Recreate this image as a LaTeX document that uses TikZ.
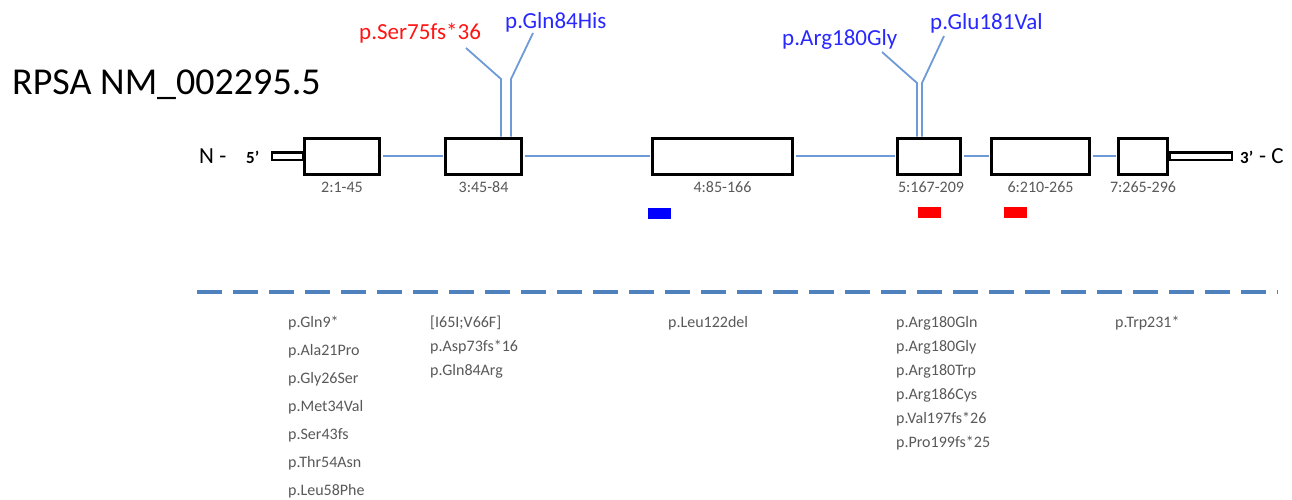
\documentclass[tikz,border=0pt]{standalone}
\usepackage{fontspec}
\setmainfont{Carlito}
\definecolor{lineblue}{RGB}{110,155,215}
\definecolor{dashblue}{RGB}{79,129,189}
\definecolor{mred}{RGB}{255,20,20}
\definecolor{mblue}{RGB}{40,40,255}
\definecolor{labgrey}{RGB}{89,89,89}
\tikzset{
  exon/.style={draw=black, line width=3pt, fill=white, rectangle, minimum height=36pt, inner sep=0pt},
  utr/.style={draw=black, line width=2.5pt, fill=white, rectangle, minimum height=7.5pt, inner sep=0pt},
  intron/.style={draw=lineblue, line width=2pt, shorten <=1.5pt, shorten >=1.5pt},
  mutline/.style={draw=lineblue, line width=1.8pt},
  exlab/.style={font=\fontsize{16}{18}\selectfont, text=labgrey, inner sep=0pt},
  toplab/.style={font=\fontsize{23}{26}\selectfont, anchor=base west, inner sep=0pt},
  mut/.style={font=\fontsize{16}{19}\selectfont, text=labgrey, anchor=base west, inner sep=0pt},
  marker/.style={rectangle, minimum width=23pt, minimum height=11pt, inner sep=0pt},
  endlab/.style={font=\fontsize{23}{27}\selectfont, anchor=base west, inner sep=0pt},
  primelab/.style={font=\fontsize{17}{20}\selectfont\bfseries, anchor=base west, inner sep=0pt}
}
\begin{document}
\begin{tikzpicture}[x=1pt,y=-1pt]
\useasboundingbox (0,0) rectangle (1292,500);
\fill[white] (0,0) rectangle (1292,500);

% title
\node[font=\fontsize{38}{44}\selectfont, anchor=base west, inner sep=0pt] (title) at (12,95) {RPSA NM\_002295.5};

% UTRs and exons
\node[utr, minimum width=31pt] (u5) at (287.5,156) {};
\node[utr, minimum width=62pt] (u3) at (1201,156) {};
\node[exon, minimum width=75pt] (e2) at (342,156) {};
\node[exon, minimum width=76pt] (e3) at (483.5,156) {};
\node[exon, minimum width=140pt] (e4) at (722.5,156) {};
\node[exon, minimum width=63pt] (e5) at (929,156) {};
\node[exon, minimum width=98pt] (e6) at (1040.5,156) {};
\node[exon, minimum width=49pt] (e7) at (1143,156) {};

% introns
\draw[intron] (e2.east) -- (e3.west);
\draw[intron] (e3.east) -- (e4.west);
\draw[intron] (e4.east) -- (e5.west);
\draw[intron] (e5.east) -- (e6.west);
\draw[intron] (e6.east) -- (e7.west);

% end labels
\node[endlab] (nterm) at (199,163) {N -};
\node[primelab] (five) at (246,163) {5’};
\node[primelab] (three) at (1240,163) {3’};
\node[endlab] (cterm) at (1259,163) {- C};

% exon labels
\node[exlab] (l2) at (342,187) {2:1-45};
\node[exlab] (l3) at (483.5,187) {3:45-84};
\node[exlab] (l4) at (722.5,187) {4:85-166};
\node[exlab] (l5) at (931,187) {5:167-209};
\node[exlab] (l6) at (1040.5,187) {6:210-265};
\node[exlab] (l7) at (1143,187) {7:265-296};

% markers
\node[marker, fill=blue] (m1) at (659.5,213) {};
\node[marker, fill=red] (m2) at (929.5,212.5) {};
\node[marker, fill=red] (m3) at (1015,212.5) {};

% top mutation labels
\node[toplab, text=mred] (t1) at (359,40) {p.Ser75fs*36};
\node[toplab, text=mblue] (t2) at (505,29) {p.Gln84His};
\node[toplab, text=mblue] (t3) at (782,46) {p.Arg180Gly};
\node[toplab, text=mblue] (t4) at (930,30) {p.Glu181Val};

\coordinate (a1) at (466,48);  \coordinate (k1) at (501,79);
\coordinate (a2) at (533,33);  \coordinate (k2) at (511,79);
\coordinate (a3) at (882,52);  \coordinate (k3) at (917,83);
\coordinate (a4) at (944,36);  \coordinate (k4) at (922,83);
\draw[mutline] (a1) -- (k1) -- (k1 |- e3.north);
\draw[mutline] (a2) -- (k2) -- (k2 |- e3.north);
\draw[mutline] (a3) -- (k3) -- (k3 |- e5.north);
\draw[mutline] (a4) -- (k4) -- (k4 |- e5.north);

% dashed separator
\coordinate (dl) at (197,292);
\coordinate (dr) at (1278,292);
\draw[dashblue, line width=3.5pt, dash pattern=on 25pt off 11pt] (dl) -- (dr);

% bottom lists
\node[mut] (b1a) at (288,327) {p.Gln9*};
\node[mut] (b1b) at (288,355) {p.Ala21Pro};
\node[mut] (b1c) at (288,383) {p.Gly26Ser};
\node[mut] (b1d) at (288,411) {p.Met34Val};
\node[mut] (b1e) at (288,439) {p.Ser43fs};
\node[mut] (b1f) at (288,467) {p.Thr54Asn};
\node[mut] (b1g) at (288,495) {p.Leu58Phe};

\node[mut] (b2a) at (430,327) {[I65I;V66F]};
\node[mut] (b2b) at (430,351) {p.Asp73fs*16};
\node[mut] (b2c) at (430,375) {p.Gln84Arg};

\node[mut] (b3a) at (668,327) {p.Leu122del};

\node[mut] (b4a) at (896,327) {p.Arg180Gln};
\node[mut] (b4b) at (896,351) {p.Arg180Gly};
\node[mut] (b4c) at (896,375) {p.Arg180Trp};
\node[mut] (b4d) at (896,399) {p.Arg186Cys};
\node[mut] (b4e) at (896,423) {p.Val197fs*26};
\node[mut] (b4f) at (896,447) {p.Pro199fs*25};

\node[mut] (b5a) at (1115,327) {p.Trp231*};
\end{tikzpicture}
\end{document}
